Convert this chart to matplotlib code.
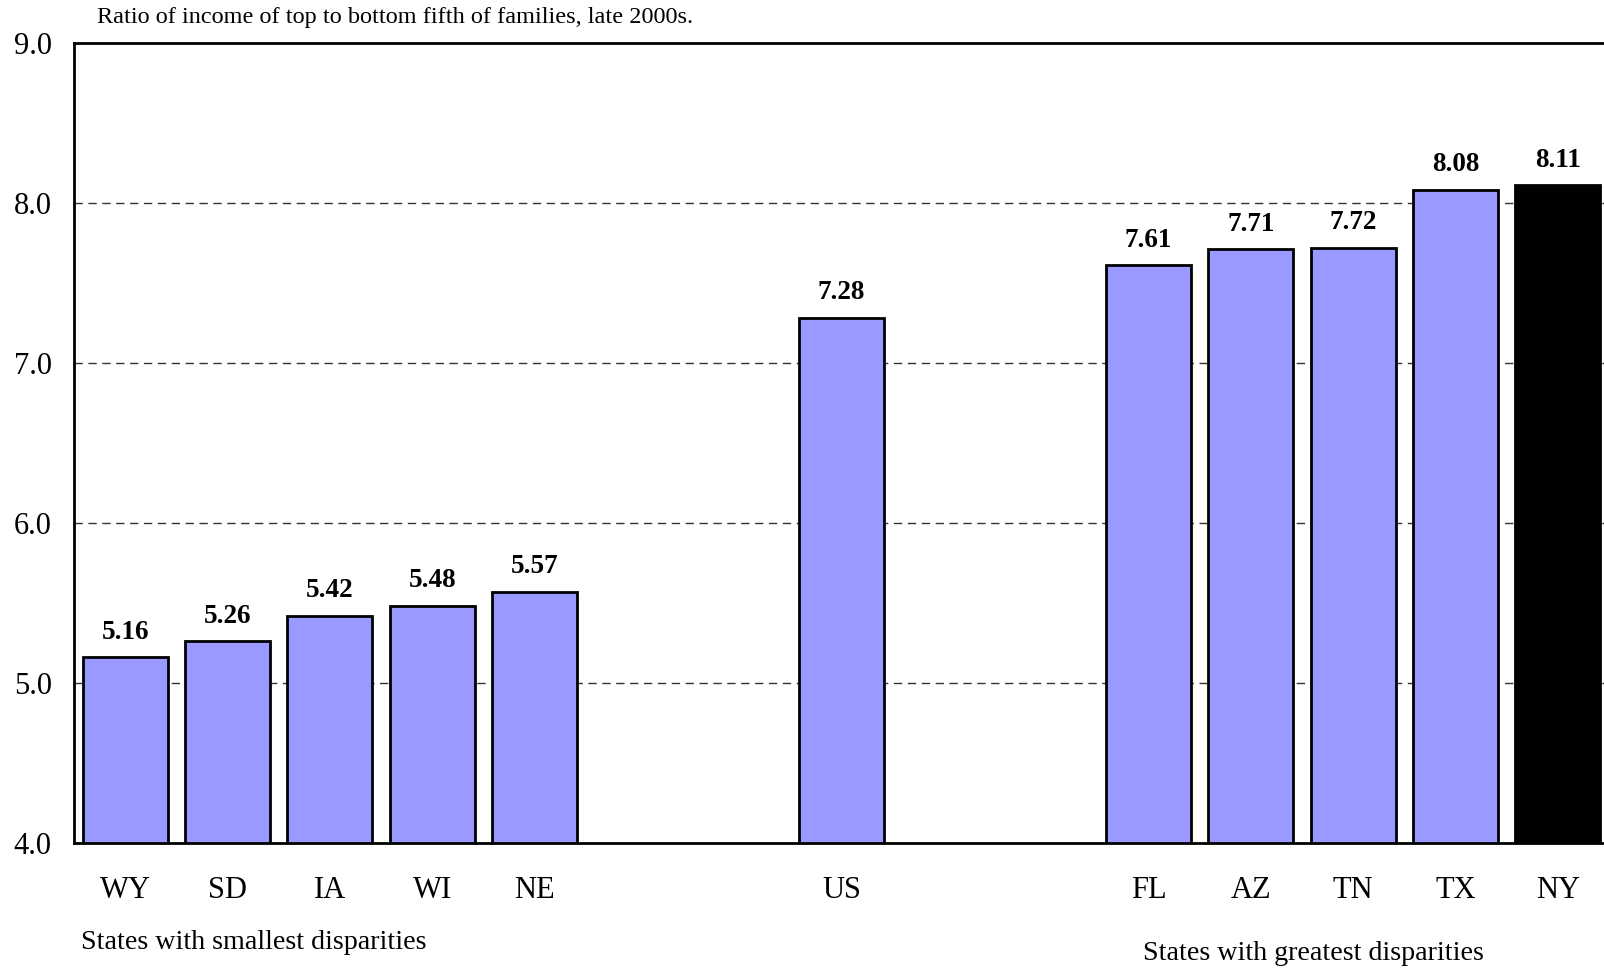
import matplotlib
matplotlib.use("Agg")
import matplotlib.pyplot as plt

plt.rcParams['font.family'] = ['Liberation Serif', 'DejaVu Serif']

states = ["WY", "SD", "IA", "WI", "NE", "", "", "US", "", "", "FL", "AZ", "TN", "TX", "NY"]
values = [5.16, 5.26, 5.42, 5.48, 5.57, None, None, 7.28, None, None, 7.61, 7.71, 7.72, 8.08, 8.11]
highlight = "NY"
y_ticks = [4.0, 5.0, 6.0, 7.0, 8.0, 9.0]
title = "Ratio of income of top to bottom fifth of families, late 2000s."
group_left = "States with smallest disparities"
group_right = "States with greatest disparities"

W, H = 1604, 971
fig = plt.figure(figsize=(W / 100, H / 100), dpi=100)
left_px, right_px, top_px, bottom_px = 74, 1609, 43, 843
ax = fig.add_axes([left_px / W, 1 - bottom_px / H, (right_px - left_px) / W, (bottom_px - top_px) / H])

xs, hs, cols = [], [], []
for i, (s, v) in enumerate(zip(states, values)):
    if v is None:
        continue
    xs.append(i)
    hs.append(v - 4.0)
    cols.append("black" if s == highlight else "#9999FF")

bars = ax.bar(xs, hs, bottom=4.0, width=0.83, color=cols, edgecolor="black", linewidth=2, zorder=3)
for x, h in zip(xs, hs):
    ax.text(x, 4.0 + h + 0.08, f"{4.0 + h:.2f}", ha="center", va="bottom",
            fontsize=19.5, fontweight="bold", zorder=4)

ax.set_xlim(-0.5, len(states) - 0.5)
ax.set_ylim(4.0, 9.0)
ax.set_yticks(y_ticks)
ax.set_yticklabels([f"{t:.1f}" for t in y_ticks], fontsize=22)
ax.set_xticks(range(len(states)))
ax.set_xticklabels(states, fontsize=22)
ax.tick_params(axis="x", length=0, pad=24)
ax.tick_params(axis="y", length=0, pad=16)
for t in [5.0, 6.0, 7.0, 8.0]:
    ax.axhline(t, color="#333333", linestyle=(0, (6, 4)), linewidth=1, zorder=1)
for sp in ax.spines.values():
    sp.set_linewidth(2)

fig.text(97 / W, 1 - 18 / H, title, fontsize=17.5, ha="left", va="center")
fig.text(81 / W, 1 - 942 / H, group_left, fontsize=20.2, ha="left", va="center")
fig.text(1143 / W, 1 - 953 / H, group_right, fontsize=20.2, ha="left", va="center")

fig.savefig("out.png", dpi=100)
